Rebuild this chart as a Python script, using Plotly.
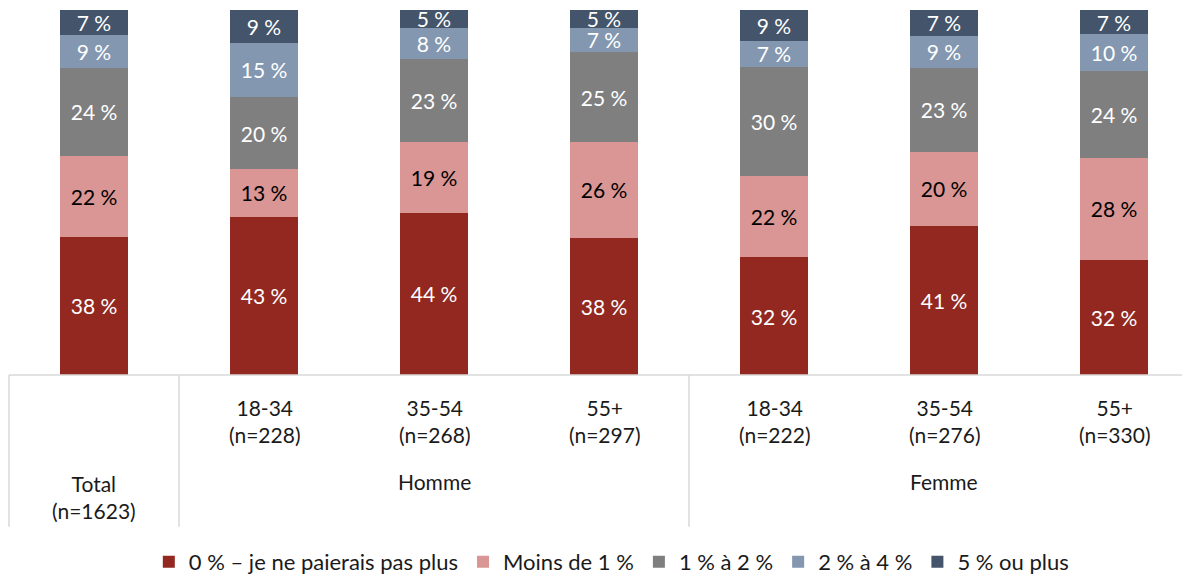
import plotly.graph_objects as go

# ---- data ----
groups = ["Total", "Homme", "Homme", "Homme", "Femme", "Femme", "Femme"]
ages = ["", "18-34", "35-54", "55+", "18-34", "35-54", "55+"]
n_sizes = [1623, 228, 268, 297, 222, 276, 330]

series_names = ["0 % – je ne paierais pas plus", "Moins de 1 %", "1 % à 2 %", "2 % à 4 %", "5 % ou plus"]
s_zero = [37.9, 43.4, 44.4, 37.6, 32.3, 40.9, 31.6]
s_lt1 = [22.2, 13.0, 19.4, 26.2, 22.3, 20.3, 27.8]
s_1to2 = [24.1, 19.8, 22.9, 24.6, 29.9, 22.9, 23.8]
s_2to4 = [9.0, 14.8, 8.4, 6.8, 6.9, 8.8, 10.2]
s_5plus = [6.8, 9.0, 4.9, 4.8, 8.6, 7.1, 6.6]

colors = ["#922820", "#D99694", "#7F7F7F", "#8497B0", "#44546A"]
text_colors = ["white", "black", "white", "white", "white"]

FONT = "Lato"
FS = 21
TXT = "#1a1a1a"

x_pos = list(range(len(groups)))
fig = go.Figure()
for name, vals, col, tcol in zip(series_names, [s_zero, s_lt1, s_1to2, s_2to4, s_5plus], colors, text_colors):
    fig.add_trace(go.Bar(
        x=x_pos, y=vals, name=name, width=0.4,
        marker=dict(color=col, line=dict(width=0)),
        texttemplate="%{y:.0f} %", textposition="inside", insidetextanchor="middle",
        textangle=0, textfont=dict(family=FONT, size=FS, color=tcol), cliponaxis=False,
    ))

# page body has an 8px default margin: figure is 1182x568, placed at (8, 8)
fig.update_layout(
    width=1182, height=568, barmode="stack",
    margin=dict(l=1, r=0, t=2, b=201, autoexpand=False),
    paper_bgcolor="white", plot_bgcolor="white",
    uniformtext=dict(minsize=FS, mode="show"),
    font=dict(family=FONT, size=FS, color=TXT),
    xaxis=dict(range=[-0.5, -0.5 + 1181 / 170], showticklabels=False, showgrid=False, zeroline=False,
               showline=False, ticks=""),
    yaxis=dict(range=[0, 100], visible=False),
    showlegend=True,
    legend=dict(orientation="h", x=0.51, xanchor="center", y=-0.512, yanchor="middle",
                font=dict(family=FONT, size=22, color=TXT), traceorder="normal"),
)

line_col = "#D9D9D9"
# axis baseline
fig.add_shape(type="line", xref="paper", yref="paper", x0=0, x1=1, y0=0, y1=0,
              line=dict(color=line_col, width=1.5))
# group dividers
fig.add_shape(type="line", xref="paper", yref="paper", x0=0, x1=0, y0=0, y1=-0.416,
              line=dict(color=line_col, width=1.5))
for b in [0.5, 3.5]:
    fig.add_shape(type="line", xref="x", yref="paper", x0=b, x1=b, y0=0, y1=-0.416,
                  line=dict(color=line_col, width=1.5))

# age labels
for i, (a, n) in enumerate(zip(ages, n_sizes)):
    if a:
        fig.add_annotation(x=i, xref="x", yref="paper", y=-0.126, yanchor="middle",
                           text=f"{a}<br>(n={n})", showarrow=False,
                           font=dict(family=FONT, size=FS, color=TXT))

# group labels
seen = []
for g in groups:
    if g not in seen:
        seen.append(g)
for g in seen:
    idx = [i for i, gg in enumerate(groups) if gg == g]
    center = sum(idx) / len(idx)
    if g == "Total":
        txt = f"Total<br>(n={n_sizes[idx[0]]})"
        y = -0.334
    else:
        txt = g
        y = -0.293
    fig.add_annotation(x=center, xref="x", yref="paper", y=y, yanchor="middle",
                       text=txt, showarrow=False, font=dict(family=FONT, size=FS, color=TXT))

fig.write_html("out.html")
